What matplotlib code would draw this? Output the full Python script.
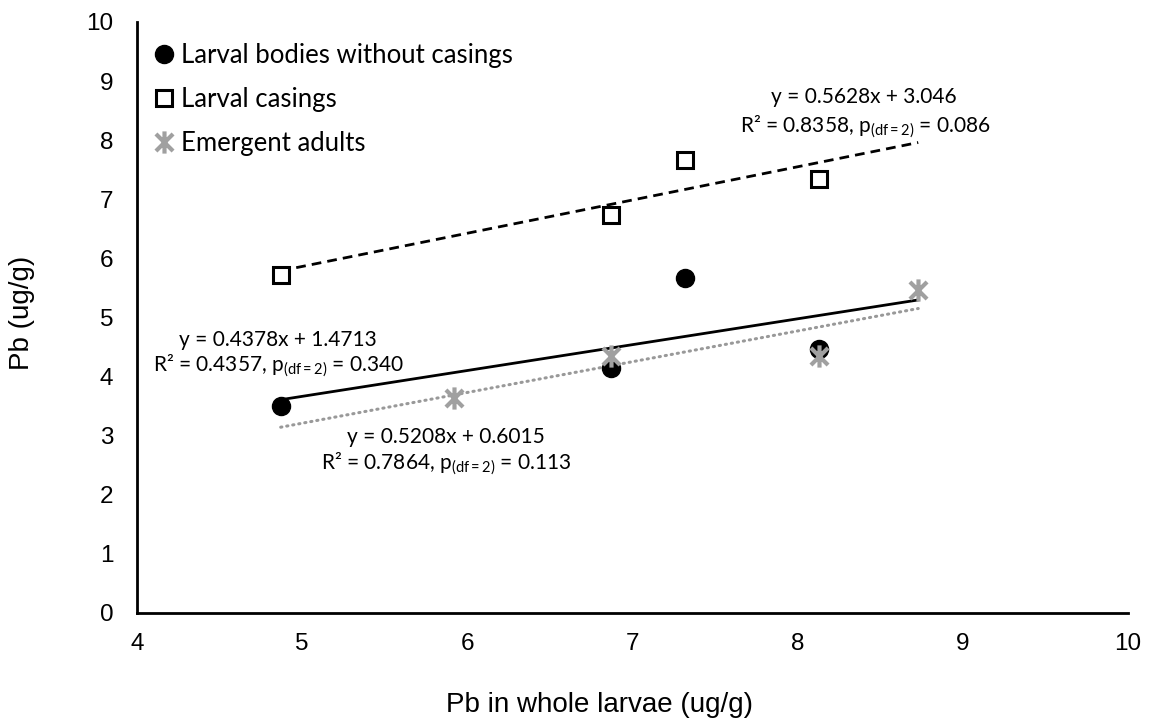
import matplotlib
matplotlib.use("Agg")
import matplotlib.pyplot as plt
import numpy as np
from matplotlib.path import Path
from matplotlib.lines import Line2D

plt.rcParams['mathtext.fontset'] = 'custom'
plt.rcParams['mathtext.rm'] = 'Lato'
plt.rcParams['mathtext.it'] = 'Lato:italic'

# Pb concentrations (ug/g) against Pb in whole larvae
bodies_x = [4.87, 6.87, 7.32, 8.13]
bodies_y = [3.49, 4.14, 5.66, 4.47]
casings_x = [4.87, 6.87, 7.32, 8.13]
casings_y = [5.71, 6.73, 7.66, 7.34]
adults_x = [5.92, 6.87, 8.13, 8.73]
adults_y = [3.64, 4.34, 4.34, 5.46]

# fitted linear trends (slope, intercept) and their span along x
bodies_fit = (0.4378, 1.4713)
casings_fit = (0.5628, 3.046)
adults_fit = (0.5208, 0.6015)
fit_span = [4.87, 8.73]

series_labels = ["Larval bodies without casings", "Larval casings", "Emergent adults"]
x_ticks = [4, 5, 6, 7, 8, 9, 10]
y_ticks = [0, 1, 2, 3, 4, 5, 6, 7, 8, 9, 10]

W, H = 1149, 723
fig = plt.figure(figsize=(W / 100, H / 100), dpi=100)
ax = fig.add_axes([137 / W, (H - 612.5) / H, 991 / W, 590.5 / H])


def fpos(px, py):
    return px / W, 1 - py / H


GRAY = "#a0a0a0"
asterisk = Path([(-1, -1), (1, 1), (-1, 1), (1, -1), (0, -1.3), (0, 1.3)],
                [Path.MOVETO, Path.LINETO, Path.MOVETO, Path.LINETO, Path.MOVETO, Path.LINETO])

xs = np.array(fit_span)
ax.plot(xs, casings_fit[0] * xs + casings_fit[1], color="black", lw=2.0,
        linestyle=(0, (3.5, 2.2)), zorder=2)
ax.plot(xs, bodies_fit[0] * xs + bodies_fit[1], color="black", lw=2.0, zorder=2)
ax.plot(xs, adults_fit[0] * xs + adults_fit[1], color="#999999", lw=2.2,
        linestyle=(0, (0.4, 1.6)), dash_capstyle="round", zorder=2)

circle_style = dict(linestyle="none", marker="o", ms=13, color="black")
square_style = dict(linestyle="none", marker="s", ms=11, mfc="white", mec="black", mew=2.2)
star_style = dict(linestyle="none", marker=asterisk, ms=16, mec=GRAY, mew=3.0)

ax.plot(bodies_x, bodies_y, zorder=3, **circle_style)
ax.plot(casings_x, casings_y, zorder=3, **square_style)
ax.plot(adults_x, adults_y, zorder=4, **star_style)

ax.set_xlim(4, 10)
ax.set_ylim(0, 10)
ax.set_xticks(x_ticks)
ax.set_yticks(y_ticks)
ax.tick_params(length=0, labelsize=17.5)
ax.tick_params(axis="x", pad=15)
ax.tick_params(axis="y", pad=17)
for lab in ax.get_xticklabels() + ax.get_yticklabels():
    lab.set_fontfamily("Liberation Sans")
for s in ["top", "right"]:
    ax.spines[s].set_visible(False)
for s in ["left", "bottom"]:
    ax.spines[s].set_linewidth(2.0)
    ax.spines[s].set_color("black")

fig.text(*fpos(599, 705), "Pb in whole larvae (ug/g)", ha="center", va="center",
         fontsize=20, family="Liberation Sans")
fig.text(*fpos(22, 313), "Pb (ug/g)", ha="center", va="center", rotation=90,
         fontsize=20, family="Liberation Sans")

handles = [Line2D([], [], **circle_style), Line2D([], [], **square_style),
           Line2D([], [], **star_style)]
leg = ax.legend(handles, series_labels, loc="upper left", bbox_to_anchor=(0.0, 0.993),
                frameon=False, handlelength=0.8, handletextpad=0.25, labelspacing=0.74,
                borderaxespad=0.25, prop={"family": "Lato", "size": 18.5})

tfont = dict(family="Lato", fontsize=15, ha="center", va="center")
fig.text(*fpos(864, 97), "y = 0.5628x + 3.046", **tfont)
fig.text(*fpos(865, 127), r"R² = 0.8358, p$_{\mathrm{(df{=}2)}}$ = 0.086", **tfont)
fig.text(*fpos(278, 340), "y = 0.4378x + 1.4713", **tfont)
fig.text(*fpos(279, 366), r"R² = 0.4357, p$_{\mathrm{(df{=}2)}}$ = 0.340", **tfont)
fig.text(*fpos(446, 437), "y = 0.5208x + 0.6015", **tfont)
fig.text(*fpos(446, 464), r"R² = 0.7864, p$_{\mathrm{(df{=}2)}}$ = 0.113", **tfont)

fig.savefig("out.png", dpi=100)
